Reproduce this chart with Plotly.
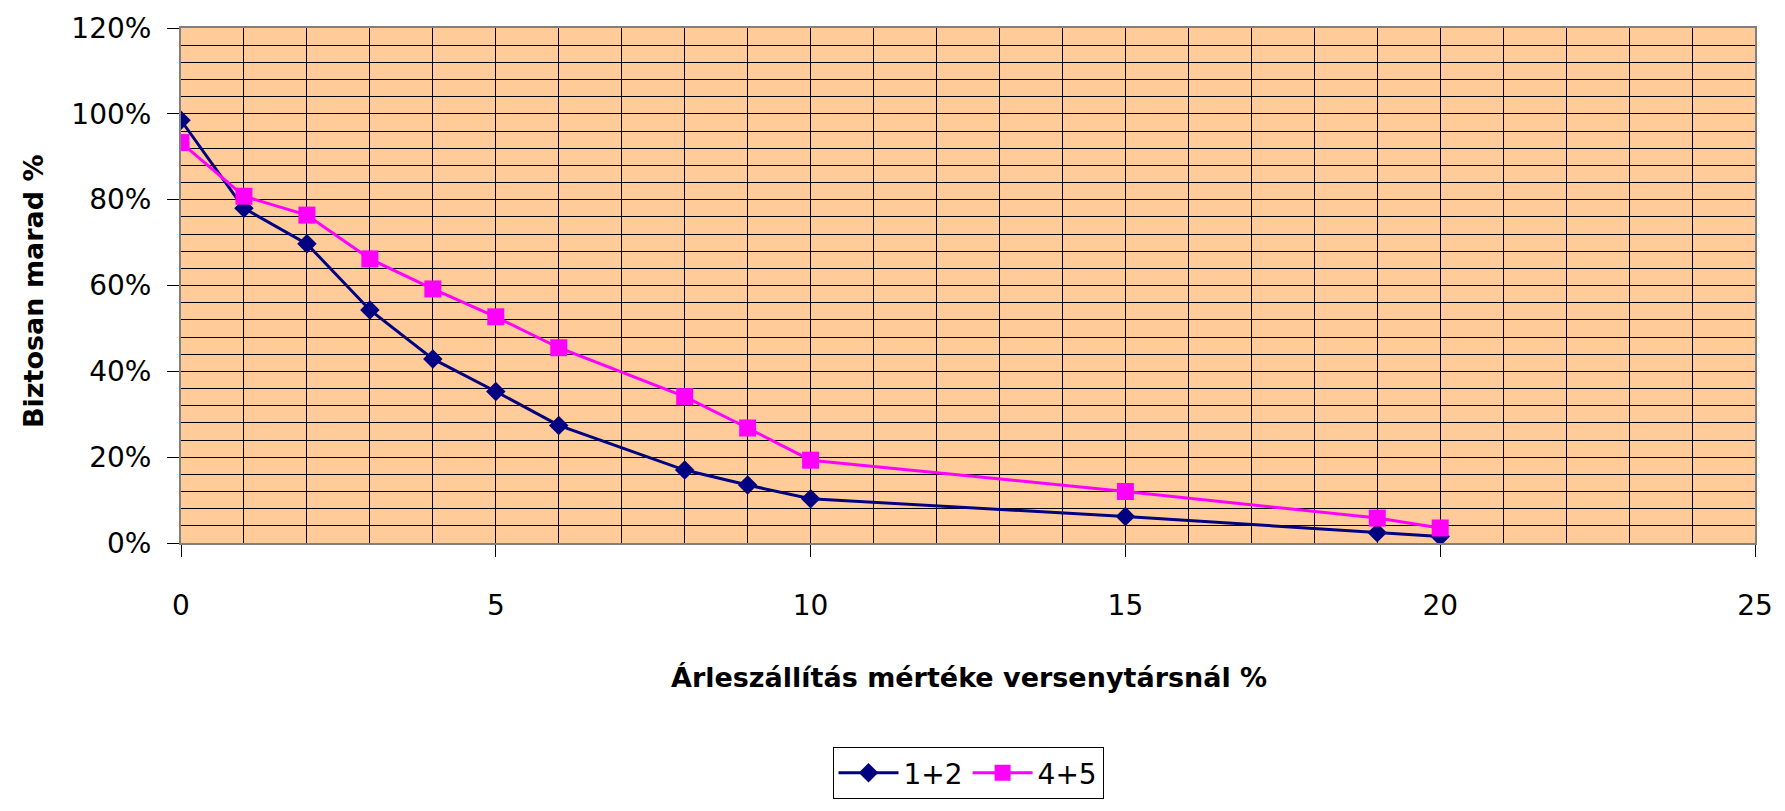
import plotly.graph_objects as go

# Data
x_values = [0, 1, 2, 3, 4, 5, 6, 8, 9, 10, 15, 19, 20]
series_12 = [98.5, 78.0, 69.7, 54.3, 42.9, 35.3, 27.4, 17.0, 13.5, 10.3, 6.2, 2.4, 1.5]
series_45 = [93.3, 80.8, 76.4, 66.2, 59.2, 52.7, 45.5, 34.1, 26.8, 19.3, 12.0, 5.8, 3.5]
series_names = ["1+2", "4+5"]

x_title = "Árleszállítás mértéke versenytársnál %"
y_title = "Biztosan marad %"

FONT = "Comic Sans MS, DejaVu Sans, sans-serif"
NAVY = "#000080"
MAGENTA = "#FF00FF"

fig = go.Figure()
fig.add_trace(go.Scatter(
    x=x_values, y=series_12, name=series_names[0], mode="lines+markers",
    line=dict(color=NAVY, width=3),
    marker=dict(symbol="diamond", size=15, color=NAVY),
))
fig.add_trace(go.Scatter(
    x=x_values, y=series_45, name=series_names[1], mode="lines+markers",
    line=dict(color=MAGENTA, width=3),
    marker=dict(symbol="square", size=17, color=MAGENTA),
))

axis_common = dict(
    showline=True, linecolor="#808080", linewidth=2, mirror=True,
    showgrid=True, gridcolor="black", gridwidth=1,
    zeroline=False,
    ticks="outside", ticklen=12, tickcolor="black", tickwidth=1,
    tickfont=dict(family=FONT, size=28, color="black"),
)

fig.update_xaxes(
    range=[0, 25], tick0=0, dtick=5,
    minor=dict(dtick=1, showgrid=True, gridcolor="black", gridwidth=1, ticks=""),
    ticklabelstandoff=24,
    **axis_common,
)
fig.update_yaxes(
    range=[0, 120], tick0=0, dtick=20, ticksuffix="%",
    minor=dict(dtick=4, showgrid=True, gridcolor="black", gridwidth=1, ticks=""),
    ticklabelstandoff=10,
    **axis_common,
)

fig.add_annotation(
    text=x_title, xref="paper", yref="paper", x=(972 - 181) / 1580, y=(547 - 683) / 520,
    xanchor="center", yanchor="middle", showarrow=False,
    font=dict(family=FONT, size=27, color="black", weight="bold"),
)
fig.add_annotation(
    text=y_title, xref="paper", yref="paper", x=(33 - 181) / 1580, y=(547 - 293) / 520,
    xanchor="center", yanchor="middle", showarrow=False, textangle=-90,
    font=dict(family=FONT, size=27, color="black", weight="bold"),
)

fig.update_layout(
    width=1785, height=811,
    margin=dict(l=181, r=24, t=27, b=264),
    paper_bgcolor="white", plot_bgcolor="#FFCC99",
    showlegend=True,
    legend=dict(
        orientation="h", x=0.5, xanchor="center", y=(547 - 753) / 520, yanchor="top",
        bordercolor="black", borderwidth=1, bgcolor="white",
        font=dict(family=FONT, size=28, color="black"),
        itemwidth=60,
    ),
)

fig.write_html("out.html")
